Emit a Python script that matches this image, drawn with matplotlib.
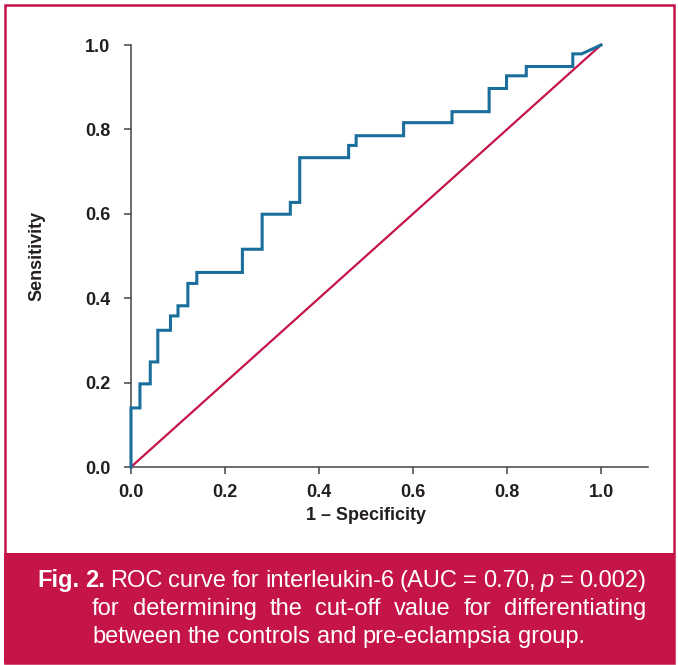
import matplotlib
matplotlib.use('Agg')
import matplotlib.pyplot as plt
from matplotlib.patches import Rectangle

# ROC operating points
fpr = [0.0, 0.0, 0.019, 0.019, 0.041, 0.041, 0.057, 0.057, 0.084, 0.084, 0.100, 0.100,
       0.121, 0.121, 0.140, 0.140, 0.237, 0.237, 0.279, 0.279, 0.339, 0.339, 0.359, 0.359,
       0.463, 0.463, 0.479, 0.479, 0.580, 0.580, 0.683, 0.683, 0.762, 0.762, 0.799, 0.799,
       0.841, 0.841, 0.940, 0.940, 0.959, 1.0]
tpr = [0.0, 0.140, 0.140, 0.197, 0.197, 0.249, 0.249, 0.324, 0.324, 0.358, 0.358, 0.382,
       0.382, 0.435, 0.435, 0.461, 0.461, 0.516, 0.516, 0.599, 0.599, 0.627, 0.627, 0.733,
       0.733, 0.762, 0.762, 0.785, 0.785, 0.816, 0.816, 0.842, 0.842, 0.897, 0.897, 0.927,
       0.927, 0.949, 0.949, 0.979, 0.979, 1.0]
ref_line = [0.0, 1.0]
ticks = [0.0, 0.2, 0.4, 0.6, 0.8, 1.0]
tick_labels = ['0.0', '0.2', '0.4', '0.6', '0.8', '1.0']

caption = [
    [('Fig.', 'bold', 'normal'), ('2.', 'bold', 'normal'), ('ROC', 'normal', 'normal'),
     ('curve', 'normal', 'normal'), ('for', 'normal', 'normal'),
     ('interleukin-6', 'normal', 'normal'), ('(AUC', 'normal', 'normal'),
     ('=', 'normal', 'normal'), ('0.70,', 'normal', 'normal'), ('p', 'normal', 'italic'),
     ('=', 'normal', 'normal'), ('0.002)', 'normal', 'normal')],
    [(w, 'normal', 'normal') for w in 'for determining the cut-off value for differentiating'.split()],
    [(w, 'normal', 'normal') for w in 'between the controls and pre-eclampsia group.'.split()],
]

BLUE = '#1a6e9b'
CRIMSON = '#c41448'
INK = '#231f20'
W, H = 678, 665

plt.rcParams['font.family'] = ['Liberation Sans', 'DejaVu Sans']

fig = plt.figure(figsize=(W / 100, H / 100), dpi=100)
ax = fig.add_axes([131 / W, (H - 467) / H, (648 - 131) / W, (467 - 45) / H])

ax.plot(ref_line, ref_line, color=CRIMSON, lw=1.6, zorder=3, clip_on=False)
ax.plot(fpr, tpr, color=BLUE, lw=2.2, zorder=4, clip_on=False, solid_joinstyle='miter')

ax.set_xlim(0, 1.1)
ax.set_ylim(0, 1.0)
ax.set_xticks(ticks)
ax.set_yticks(ticks)
ax.set_xticklabels(tick_labels)
ax.set_yticklabels(tick_labels)
for s in ['top', 'right']:
    ax.spines[s].set_visible(False)
for s in ['left', 'bottom']:
    ax.spines[s].set_color('#444444')
    ax.spines[s].set_linewidth(1.1)
ax.tick_params(length=5, width=1.1, color='#444444', labelsize=13, labelcolor=INK)
ax.tick_params(axis='x', pad=7)
ax.tick_params(axis='y', pad=10)
for lab in ax.get_xticklabels() + ax.get_yticklabels():
    lab.set_fontweight('bold')

ax.text(0.5, 1 - 516 / H, '1 \u2013 Specificity', transform=ax.get_xaxis_transform(),
        ha='center', va='center', fontsize=13, fontweight='bold', color=INK)
ax.texts[-1].set_transform(matplotlib.transforms.blended_transform_factory(ax.transData, fig.transFigure))
ax.text(37 / W, 1 - 256 / H, 'Sensitivity', transform=fig.transFigure, rotation=90,
        ha='center', va='center', fontsize=13, fontweight='bold', color=INK)

# frame and caption band
fig.patches.append(Rectangle((4.5 / W, 2.5 / H), 669.5 / W, 658 / H, transform=fig.transFigure,
                             fill=False, edgecolor=CRIMSON, lw=1.8))
fig.patches.append(Rectangle((3.5 / W, 2 / H), 671 / W, (663 - 553) / H, transform=fig.transFigure,
                             facecolor=CRIMSON, edgecolor='none'))

# justified caption
fig.canvas.draw()
renderer = fig.canvas.get_renderer()
baselines = [587, 615, 643]
line_left = [37, 92, 92]
right = 646
fs = 17
for i, words in enumerate(caption):
    objs = []
    for txt, wt, st in words:
        t = fig.text(0, 1 - baselines[i] / H, txt, color='white', fontsize=fs, fontweight=wt,
                     fontstyle=st, ha='left', va='baseline')
        objs.append(t)
    widths = [o.get_window_extent(renderer).width for o in objs]
    if i < 2:
        gap = (right - line_left[i] - sum(widths)) / (len(objs) - 1)
    else:
        gap = fs * 0.278 * 100 / 72
    x = line_left[i]
    for o, w in zip(objs, widths):
        o.set_x(x / W)
        x += w + gap

fig.savefig('out.png', dpi=100)
